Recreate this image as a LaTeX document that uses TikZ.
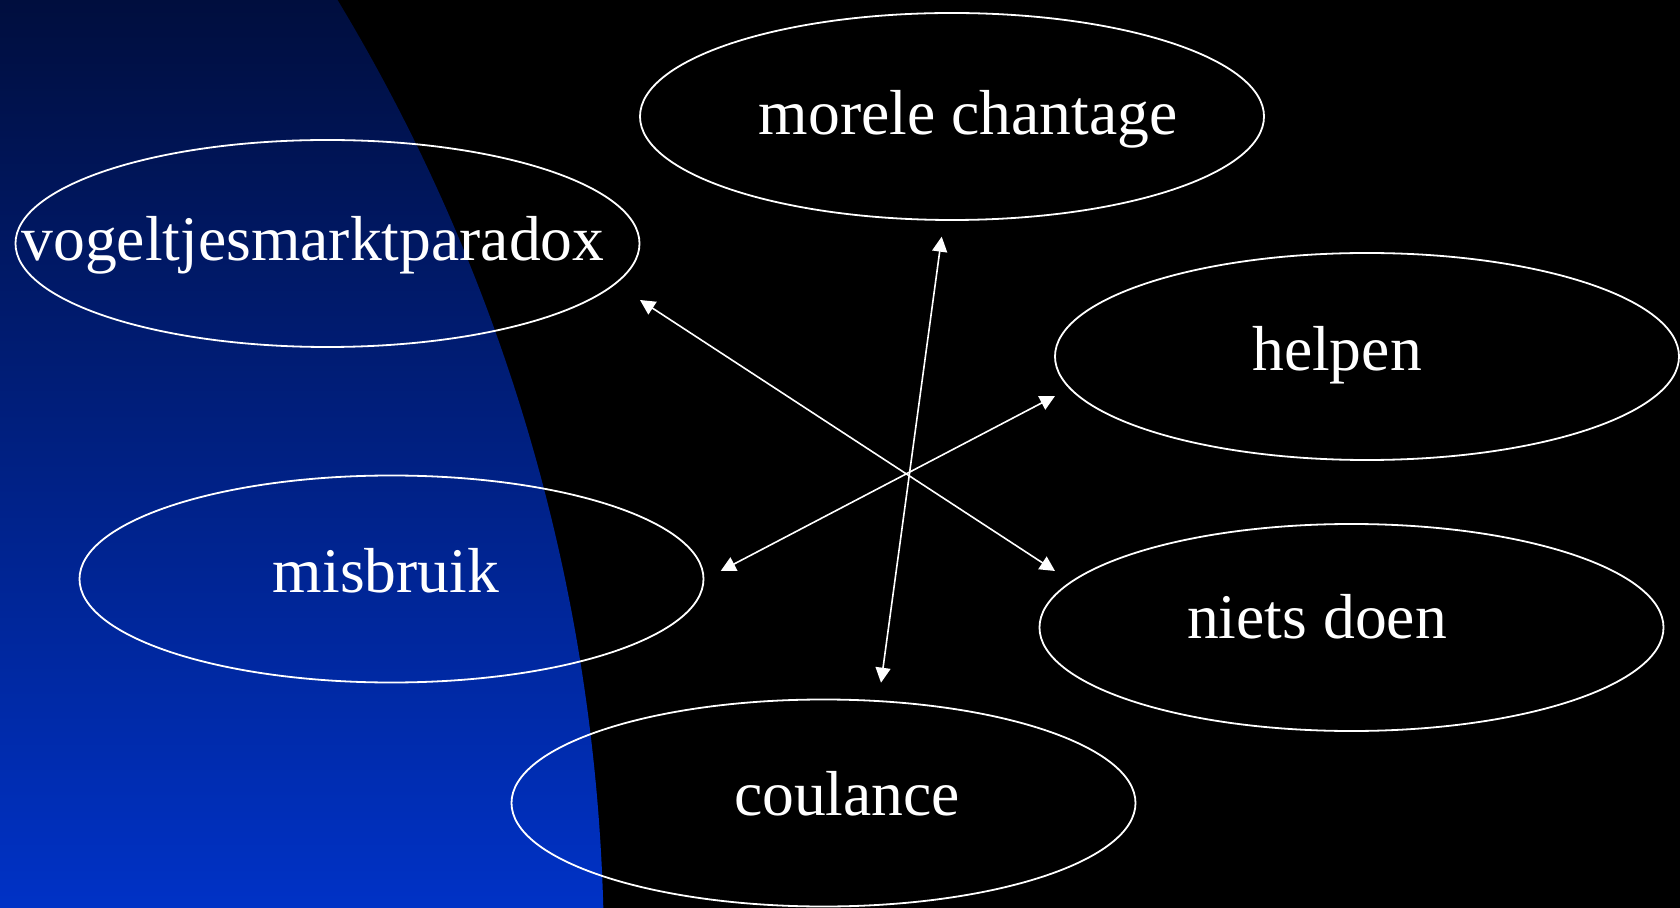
\documentclass[tikz,border=0pt]{standalone}
\usepackage{fontspec}
\setmainfont{Liberation Serif}
\usetikzlibrary{shapes.geometric,arrows.meta}
\definecolor{bgtop}{RGB}{0,14,62}
\definecolor{bgmid}{RGB}{0,36,156}
\definecolor{bgbot}{RGB}{0,50,198}
\tikzset{
  oval/.style={ellipse, draw=white, line width=0.9pt, minimum width=312pt, minimum height=103.5pt, inner sep=0pt},
  lbl/.style={text=white, anchor=base, inner sep=0pt, font=\fontsize{31.8pt}{38pt}\selectfont},
  link/.style={draw=white, line width=0.8pt, {Triangle[length=7.5pt,width=7.5pt]}-{Triangle[length=7.5pt,width=7.5pt]}}
}
\begin{document}
\begin{tikzpicture}[x=0.5pt,y=-0.5pt]
\fill[black] (0,0) rectangle (1680,908);
\useasboundingbox (0,0) rectangle (1680,908);
\begin{scope}
  \clip (0,0) rectangle (1680,908);
  \clip (-1253,959) circle[radius=928.5pt];
  \shade[top color=bgtop, middle color=bgmid, bottom color=bgbot] (0,0) rectangle (700,908);
\end{scope}
% ellipses
\node[oval] (mor) at (952,116.5) {};
\node[oval] (vog) at (327.5,243.5) {};
\node[oval] (hel) at (1367,356.5) {};
\node[oval] (mis) at (391.5,579) {};
\node[oval] (nie) at (1351.5,627.5) {};
\node[oval] (cou) at (823.5,803) {};
% labels
\node[lbl] (tmor) at (968,135) {morele chantage};
\node[lbl] (tvog) at (313,261) {vogeltjesmarktparadox};
\node[lbl] (thel) at (1337,371) {helpen};
\node[lbl] (tmis) at (386,592) {misbruik};
\node[lbl] (tnie) at (1317,638) {niets doen};
\node[lbl] (tcou) at (847,815) {coulance};
% arrow ends
\coordinate (a1s) at (941.7,236.7);
\coordinate (a1e) at (881,682.7);
\coordinate (a2s) at (640,300);
\coordinate (a2e) at (1055,571);
\coordinate (a3s) at (1055,396);
\coordinate (a3e) at (720.7,571);
\draw[link] (a1s) -- (a1e);
\draw[link] (a2s) -- (a2e);
\draw[link] (a3s) -- (a3e);
\end{tikzpicture}
\end{document}
